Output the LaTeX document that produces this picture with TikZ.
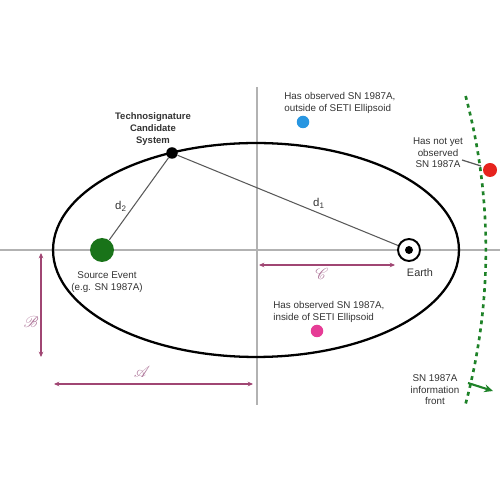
\documentclass[tikz,border=0pt]{standalone}
\usepackage{fontspec}
\setmainfont{Liberation Sans}
\usepackage{mathrsfs}
\usetikzlibrary{arrows.meta}

\definecolor{srcgreen}{RGB}{25,115,25}
\definecolor{frontgreen}{RGB}{30,130,40}
\definecolor{outblue}{RGB}{40,150,225}
\definecolor{notred}{RGB}{230,35,30}
\definecolor{inpink}{RGB}{230,60,150}
\definecolor{dimpurple}{RGB}{160,70,115}
\definecolor{dimlabel}{RGB}{175,120,155}

\begin{document}
\begin{tikzpicture}[x=0.02cm,y=0.02cm,
  blob/.style={circle,inner sep=0pt},
  txt/.style={font=\fontsize{5.6}{6.6}\selectfont,text=black!80,inner sep=0pt},
  axis/.style={draw=black!30,line width=0.8pt},
  ray/.style={draw=black!65,line width=0.6pt},
  dim/.style={draw=dimpurple,line width=0.7pt,{Stealth[length=3pt,width=2.6pt]}-{Stealth[length=3pt,width=2.6pt]}},
  dimlbl/.style={text=dimlabel,font=\small,inner sep=0pt}]
  \useasboundingbox (0,0) rectangle (500,500);

  % axes
  \coordinate (axL) at (0,250);
  \coordinate (axR) at (500,250);
  \coordinate (axT) at (257,413);
  \coordinate (axB) at (257,95);
  \draw[axis] (axL)--(axR);
  \draw[axis] (axT)--(axB);

  % SETI ellipsoid
  \coordinate (ctr) at (256,250);
  \draw[line width=1.3pt] (ctr) ellipse [x radius=4.06cm, y radius=2.14cm];

  % information front
  \draw[frontgreen,line width=1.5pt,dash pattern=on 2.2pt off 2.4pt]
    (-109,250) ++(15:11.9cm) arc [start angle=15, end angle=-15.2, radius=11.9cm];

  \node[blob,fill=black,minimum size=2.3mm] (tech) at (172,347) {};
  \node[blob,fill=srcgreen,minimum size=4.8mm] (src) at (102,250) {};
  \node[blob,draw=black,fill=white,line width=1.1pt,minimum size=4.4mm] (earth) at (409,250) {};
  \node[blob,fill=black,minimum size=1.6mm] (core) at (409,250) {};
  \node[blob,fill=outblue,minimum size=2.5mm] (out) at (303,378) {};
  \node[blob,fill=notred,minimum size=2.8mm] (notyet) at (490,330) {};
  \node[blob,fill=inpink,minimum size=2.5mm] (in) at (317,169) {};

  \draw[ray] (tech)--(src);
  \draw[ray] (tech)--(earth);

  \node[txt,font=\fontsize{6.5}{7}\selectfont] (d2) at (121,294) {d\textsubscript{2}};
  \node[txt,font=\fontsize{6.5}{7}\selectfont] (d1) at (319,297) {d\textsubscript{1}};

  \node[txt,align=center,font=\bfseries\fontsize{5.4}{6.6}\selectfont] (techlbl) at (153,371) {Technosignature\\Candidate\\System};
  \node[txt,align=center] (srclbl) at (107,218) {Source Event\\(e.g. SN 1987A)};
  \node[txt,font=\fontsize{6.2}{7}\selectfont] (earthlbl) at (420,227) {Earth};
  \node[txt,align=left,anchor=west] (outlbl) at (284,397) {Has observed SN 1987A,\\outside of SETI Ellipsoid};
  \node[txt,align=center] (nyolbl) at (438,347) {Has not yet\\observed\\SN 1987A};
  \node[txt,align=left,anchor=west] (inlbl) at (273,188) {Has observed SN 1987A,\\inside of SETI Ellipsoid};
  \node[txt,align=center] (frontlbl) at (435,110) {SN 1987A\\information\\front};

  % pointer and front direction
  \coordinate (nyoA) at (462,340);
  \coordinate (nyoB) at (481,334);
  \draw[ray,line width=0.7pt] (nyoA)--(nyoB);
  \coordinate (dirA) at (468,117);
  \coordinate (dirB) at (493,109);
  \draw[frontgreen,line width=1.2pt,-{Stealth[length=5pt,width=4.5pt]}] (dirA)--(dirB);

  % dimensions
  \coordinate (bT) at (41,247);
  \coordinate (bB) at (41,143);
  \draw[dim] (bT)--(bB);
  \node[dimlbl] (blbl) at (31,178) {$\mathscr{B}$};
  \coordinate (aL) at (54,116);
  \coordinate (aR) at (253,116);
  \draw[dim] (aL)--(aR);
  \node[dimlbl] (albl) at (142,128) {$\mathscr{A}$};
  \coordinate (cL) at (259,235);
  \coordinate (cR) at (395,235);
  \draw[dim] (cL)--(cR);
  \node[dimlbl] (clbl) at (322,226) {$\mathscr{C}$};
\end{tikzpicture}
\end{document}
